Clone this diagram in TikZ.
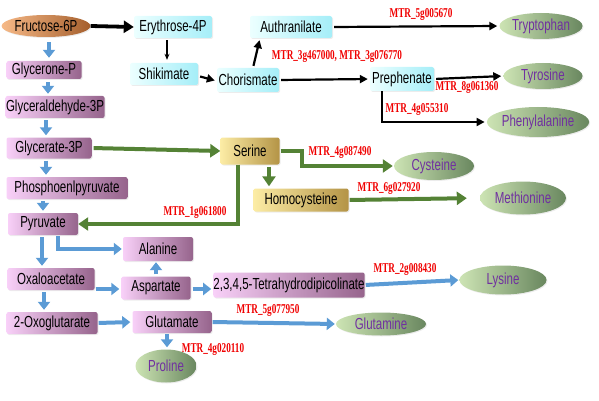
\documentclass[tikz,border=0pt]{standalone}
\usepackage{fontspec}
\usetikzlibrary{shapes.geometric,arrows.meta,shadows,calc}
\newfontfamily\boxfont[FakeStretch=0.72]{Liberation Sans}
\newfontfamily\labfont[FakeStretch=0.68]{Liberation Serif}
\definecolor{cyL}{RGB}{236,255,255}
\definecolor{cyR}{RGB}{165,238,248}
\definecolor{pkL}{RGB}{248,208,248}
\definecolor{pkR}{RGB}{150,100,140}
\definecolor{goL}{RGB}{252,236,165}
\definecolor{goR}{RGB}{180,148,70}
\definecolor{geL}{RGB}{205,228,180}
\definecolor{geR}{RGB}{105,135,95}
\definecolor{frL}{RGB}{246,185,135}
\definecolor{frR}{RGB}{165,95,45}
\definecolor{purT}{RGB}{112,48,160}
\definecolor{grnA}{RGB}{84,130,53}
\definecolor{bluA}{RGB}{91,155,213}
\definecolor{redL}{RGB}{240,0,0}
\tikzset{
  base/.style={inner sep=0pt, font=\boxfont\fontsize{16}{17}\selectfont,
    drop shadow={opacity=0.15, shadow xshift=1pt, shadow yshift=-1pt}},
  cy/.style={base, rectangle, rounded corners=2pt, left color=cyL, right color=cyR},
  pk/.style={base, rectangle, rounded corners=2pt, left color=pkL, right color=pkR},
  go/.style={base, rectangle, rounded corners=2pt, left color=goL, right color=goR},
  ge/.style={base, ellipse, left color=geL, right color=geR, text=purT},
  fr/.style={base, ellipse, left color=frL, right color=frR},
  lab/.style={inner sep=0pt, text=redL, font=\labfont\bfseries\fontsize{13.5}{14}\selectfont},
  blkthick/.style={black, line width=3.8pt, -{Triangle[length=10pt,width=12pt]}},
  blkmed/.style={black, line width=2.2pt, -{Triangle[length=8pt,width=8pt]}, shorten <=2pt, shorten >=2pt},
  blkthin/.style={black, line width=1.2pt, -{Stealth[length=6pt,width=5pt]}},
  grn/.style={grnA, line width=4pt, -{Triangle[length=10pt,width=13pt]}},
  blu/.style={bluA, line width=4pt, -{Triangle[length=8pt,width=12pt]}},
}
\begin{document}
\begin{tikzpicture}[x=1pt,y=-1pt]
\useasboundingbox (0,0) rectangle (599,401);
% top chain
\node[fr, minimum width=85pt, minimum height=22pt] (fru) at (46,26) {Fructose-6P};
\node[cy, minimum width=78pt, minimum height=22pt] (ery) at (173,27) {Erythrose-4P};
\node[cy, minimum width=68pt, minimum height=22pt] (shi) at (164,74) {Shikimate};
\node[cy, minimum width=62pt, minimum height=24pt] (cho) at (248,80) {Chorismate};
\node[cy, minimum width=82pt, minimum height=22pt] (aut) at (291,27) {Authranilate};
\node[cy, minimum width=64pt, minimum height=24pt] (pre) at (402,79) {Prephenate};
\node[ge, minimum width=83pt, minimum height=26pt] (trp) at (541,26) {Tryptophan};
\node[ge, minimum width=79pt, minimum height=26pt] (tyr) at (543,76) {Tyrosine};
\node[ge, minimum width=97pt, minimum height=30pt] (phe) at (538,122) {Phenylalanine};
% serine group
\node[go, minimum width=59pt, minimum height=27pt] (ser) at (250,151) {Serine};
\node[ge, minimum width=80pt, minimum height=28pt] (cys) at (434,166) {Cysteine};
\node[go, minimum width=95pt, minimum height=23pt] (hcy) at (301,200) {Homocysteine};
\node[ge, minimum width=86pt, minimum height=33pt] (met) at (523,198) {Methionine};
% glycolysis column
\node[pk, minimum width=75pt, minimum height=18pt] (gnp) at (44,70) {Glycerone-P};
\node[pk, minimum width=99pt, minimum height=22pt] (gad) at (55,107) {Glyceraldehyde-3P};
\node[pk, minimum width=85pt, minimum height=21pt] (gla) at (49,148) {Glycerate-3P};
\node[pk, minimum width=121pt, minimum height=22pt] (pep) at (67,188) {Phosphoenlpyruvate};
\node[pk, minimum width=70pt, minimum height=22pt] (pyr) at (43,224) {Pyruvate};
\node[pk, minimum width=70pt, minimum height=24pt] (ala) at (158,249) {Alanine};
\node[pk, minimum width=87pt, minimum height=22pt] (oxa) at (51,279) {Oxaloacetate};
\node[pk, minimum width=69pt, minimum height=23pt] (asp) at (156,288) {Aspartate};
\node[pk, minimum width=150pt, minimum height=25pt] (thd) at (289,285) {2,3,4,5-Tetrahydrodipicolinate};
\node[ge, minimum width=87pt, minimum height=29pt] (lys) at (503,280) {Lysine};
\node[pk, minimum width=91pt, minimum height=22pt] (oxg) at (52,323) {2-Oxoglutarate};
\node[pk, minimum width=79pt, minimum height=22pt] (glu) at (172,322) {Glutamate};
\node[ge, minimum width=90pt, minimum height=23pt] (gln) at (381,324) {Glutamine};
\node[ge, minimum width=61pt, minimum height=33pt] (pro) at (166,366) {Proline};
% labels
\node[lab] (l1) at (421,15) {MTR\_5g005670};
\node[lab] (l2) at (337,57) {MTR\_3g467000, MTR\_3g076770};
\node[lab] (l3) at (467,88) {MTR\_8g061360};
\node[lab] (l4) at (417,110) {MTR\_4g055310};
\node[lab] (l5) at (340,153) {MTR\_4g087490};
\node[lab] (l6) at (389,189) {MTR\_6g027920};
\node[lab] (l7) at (195,212) {MTR\_1g061800};
\node[lab] (l8) at (405,269) {MTR\_2g008430};
\node[lab] (l9) at (268,310) {MTR\_5g077950};
\node[lab] (l10) at (213,349) {MTR\_4g020110};
% black arrows
\draw[blkthick] (fru.east) -- (ery.west);
\draw[blkthin, shorten <=2pt, shorten >=3pt] ([xshift=-6pt]ery.south) -- ([xshift=-6pt]ery.south |- shi.north);
\draw[blkmed] ([yshift=-2pt]shi.east) -- ([yshift=-1pt]cho.west);
\draw[blkmed] ([xshift=5pt]cho.north) -- ([xshift=-31pt]aut.south);
\draw[blkmed] (cho.east) -- (pre.west);
\draw[blkmed] (aut.east) -- (trp.west);
\draw[blkmed] (pre.east) -- (tyr.west);
\draw[blkmed, shorten <=0pt] ([xshift=-20pt]pre.south) |- (phe.west);
% green arrows
\draw[grn, shorten <=2pt] (gla.east) -- (ser.west);
\draw[grn, shorten <=1pt, shorten >=1pt] (ser.east) -- ([xshift=22pt]ser.east) |- (cys.west);
\draw[grn, shorten <=2pt, shorten >=2pt] ([xshift=19pt]ser.south) -- ([xshift=19pt]ser.south |- hcy.north);
\draw[grn, shorten <=1pt, shorten >=13pt] (hcy.east) -- (met.west);
\draw[grn, shorten >=0pt] ([xshift=-12pt]ser.south) |- (pyr.east);
% blue arrows
\draw[blu, shorten <=5pt, shorten >=3pt] ([xshift=3pt]fru.south) -- ([xshift=3pt]fru.south |- gnp.north);
\draw[blu, shorten <=3pt, shorten >=2pt] ([xshift=4pt]gnp.south) -- ([xshift=4pt]gnp.south |- gad.north);
\draw[blu, shorten <=2pt, shorten >=2pt] ([xshift=-9pt]gad.south) -- ([xshift=-9pt]gad.south |- gla.north);
\draw[blu, shorten <=2pt, shorten >=2pt] ([xshift=-3pt]gla.south) -- ([xshift=-3pt]gla.south |- pep.north);
\draw[blu, shorten <=2pt, shorten >=2pt] (pyr.north |- pep.south) -- (pyr.north);
\draw[blu, shorten <=2pt, shorten >=2pt] ([xshift=-1pt]pyr.south) -- ([xshift=-1pt]pyr.south |- oxa.north);
\draw[blu, shorten <=1pt, shorten >=1pt] ([xshift=15pt]pyr.south) |- (ala.west);
\draw[blu, shorten <=2pt, shorten >=2pt] ([xshift=-7pt]oxa.south) -- ([xshift=-7pt]oxa.south |- oxg.north);
\draw[blu, shorten <=1pt, shorten >=2pt] ([yshift=-10pt]oxa.east) -- ([yshift=-1pt]asp.west);
\draw[blu, shorten <=2pt, shorten >=1pt] (asp.north) -- (asp.north |- ala.south);
\draw[blu, shorten <=2pt, shorten >=2pt] ([yshift=-1pt]asp.east) -- ([yshift=-1pt]asp.east -| thd.west);
\draw[blu, shorten <=1pt, shorten >=2pt] (oxg.east) -- (glu.west);
\draw[blu, shorten <=1pt, shorten >=2pt] ([xshift=-5pt]glu.south) -- ([xshift=-5pt]glu.south |- pro.north);
\draw[blu, shorten <=1pt, shorten >=1pt] (glu.east) -- (gln.west);
\draw[blu, shorten <=1pt, shorten >=1pt] (thd.east) -- (lys.west);
\end{tikzpicture}
\end{document}
